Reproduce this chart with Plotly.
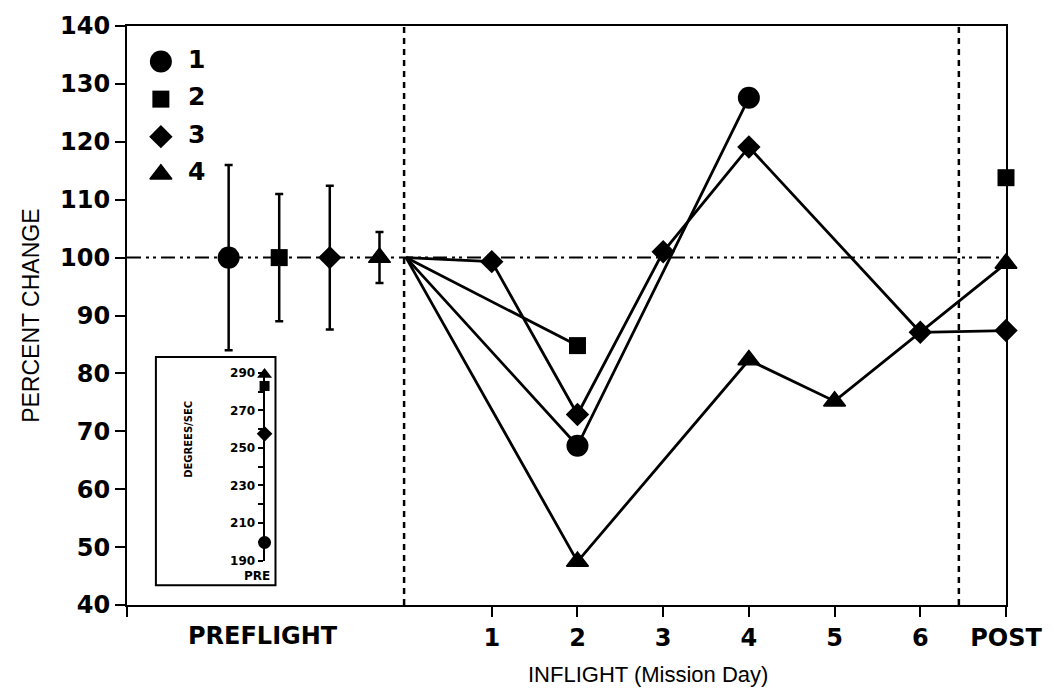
import plotly.graph_objects as go

# ---------------- data ----------------
subjects = ["1", "2", "3", "4"]
symbols = ["circle", "square", "diamond", "triangle-up"]

# preflight mean (=100 %) and error half-widths
pre_mean = [100, 100, 100, 100]
pre_err = [16.0, 11.0, 12.4, 4.4]

# inflight / post values (day 7 = POST)
s1_days = [0, 2, 4]
s1_vals = [100, 67.5, 127.6]
s2_days = [0, 2, None, 7]
s2_vals = [100, 84.8, None, 113.8]
s3_days = [0, 1, 2, 3, 4, 6, 7]
s3_vals = [100, 99.3, 72.9, 101.0, 119.1, 87.1, 87.4]
s4_days = [0, 2, 4, 5, 7]
s4_vals = [100, 47.5, 82.3, 75.2, 99.0]

x_tickvals = [1, 2, 3, 4, 5, 6, 7]
x_ticktext = ["1", "2", "3", "4", "5", "6", "POST"]

# inset: preflight absolute values (degrees/sec)
inset_vals = [199.6, 283.0, 257.5, 289.1]

# ---------------- layout constants ----------------
pre_x = [-2.07, -1.48, -0.89, -0.31]
XMIN, XMAX = -3.256, 7
FONT = "DejaVu Sans"
FONT2 = "Liberation Sans"
main_sizes = [22, 17, 18, 19]
inset_sizes = [13, 10, 12, 13]

fig = go.Figure()

def sizes(days, s):
    return [0 if d == 0 else s for d in days]

# preflight points with error bars
for i in range(4):
    fig.add_trace(go.Scatter(
        x=[pre_x[i]], y=[pre_mean[i]], mode="markers",
        marker=dict(symbol=symbols[i], size=main_sizes[i], color="black", opacity=1,
                    line=dict(width=1.5 if i == 3 else 0, color="black")),
        error_y=dict(type="data", array=[pre_err[i]], visible=True,
                     color="black", thickness=2.5, width=4),
        showlegend=False, cliponaxis=False))

series = [(s1_days, s1_vals), (s2_days, s2_vals), (s3_days, s3_vals), (s4_days, s4_vals)]
for i, (d, v) in enumerate(series):
    fig.add_trace(go.Scatter(
        x=d, y=v, mode="lines+markers", connectgaps=False,
        line=dict(color="black", width=2.8),
        marker=dict(symbol=symbols[i], size=sizes(d, main_sizes[i]), color="black",
                    opacity=1, line=dict(width=1.5 if i == 3 else 0, color="black")),
        showlegend=False, cliponaxis=False))

# inset
for i in range(4):
    fig.add_trace(go.Scatter(
        x=[0], y=[inset_vals[i]], mode="markers", xaxis="x2", yaxis="y2",
        marker=dict(symbol=symbols[i], size=inset_sizes[i], color="black", opacity=1),
        showlegend=False, cliponaxis=False))

# legend drawn as its own small subplot
fig.add_trace(go.Scatter(
    x=[161] * 4, y=[1, 2, 3, 4], mode="markers", xaxis="x3", yaxis="y3",
    marker=dict(symbol=symbols, size=main_sizes, color="black", opacity=1,
                line=dict(width=[0, 0, 0, 1.5], color="black")),
    showlegend=False, cliponaxis=False))
fig.add_trace(go.Scatter(
    x=[197] * 4, y=[1, 2, 3, 4], mode="text", text=subjects, xaxis="x3", yaxis="y3",
    textposition="middle center",
    textfont=dict(family=FONT, size=25, color="black", weight="bold"),
    showlegend=False, cliponaxis=False))

axis_common = dict(showgrid=False, zeroline=False, showline=True, linewidth=2,
                   linecolor="black", mirror=True, ticks="outside", ticklen=10,
                   tickwidth=2, tickcolor="black",
                   tickfont=dict(family=FONT, size=24, color="black", weight="bold"))

fig.update_layout(
    width=1054, height=695,
    margin=dict(l=127, r=45, t=19, b=90),
    paper_bgcolor="white", plot_bgcolor="rgba(0,0,0,0)",
    xaxis=dict(range=[XMIN, XMAX], tickvals=[XMIN] + x_tickvals,
               ticktext=[""] + x_ticktext, **axis_common),
    yaxis=dict(range=[40, 140], dtick=10, tick0=40, **axis_common),
    xaxis2=dict(domain=[0.1565, 0.1765], range=[0, 1], visible=False, anchor="y2"),
    yaxis2=dict(domain=[0.0768, 0.401], range=[190, 290], anchor="x2",
                showgrid=False, zeroline=False, showline=True, linewidth=2,
                linecolor="black", ticks="outside", ticklen=5, tickwidth=2,
                tickcolor="black", tick0=190, dtick=20,
                minor=dict(dtick=10, tick0=190, ticks="outside", ticklen=5,
                           tickwidth=2, tickcolor="black"),
                tickfont=dict(family=FONT, size=12, color="black", weight="bold")),
    xaxis3=dict(domain=[0, 0.2], range=[127, 303.4], visible=False, anchor="y3"),
    yaxis3=dict(domain=[0.7099, 0.9693], range=[4.526, 0.526], visible=False, anchor="x3"),
    shapes=[
        dict(type="line", xref="paper", x0=0, x1=1, yref="y", y0=100, y1=100,
             line=dict(color="black", width=2, dash="14px,5px,3px,4px,3px,5px"), layer="below"),
        dict(type="line", xref="x", x0=-0.023, x1=-0.023, yref="paper", y0=0, y1=1,
             line=dict(color="black", width=2.5, dash="6px,5px"), layer="below"),
        dict(type="line", xref="x", x0=6.45, x1=6.45, yref="paper", y0=0, y1=1,
             line=dict(color="black", width=2.5, dash="6px,5px"), layer="below"),
        dict(type="rect", xref="paper", x0=(156 - 127) / 882, x1=(276 - 127) / 882,
             yref="paper", y0=(605 - 585) / 586, y1=(605 - 354) / 586,
             line=dict(color="black", width=2), fillcolor="rgba(0,0,0,0)", layer="below"),
    ],
    annotations=[
        dict(text="PERCENT CHANGE", xref="paper", yref="paper", x=-0.11, y=0.5,
             textangle=-90, showarrow=False, xanchor="center", yanchor="middle",
             font=dict(family=FONT2, size=23, color="black")),
        dict(text="INFLIGHT (Mission Day)", xref="paper", yref="paper", x=0.593, y=-0.1195,
             showarrow=False, xanchor="center", yanchor="middle",
             font=dict(family=FONT2, size=22, color="black")),
        dict(text="PREFLIGHT", xref="x", yref="paper", x=-1.67, y=-0.053,
             showarrow=False, xanchor="center", yanchor="middle",
             font=dict(family=FONT, size=24, color="black", weight="bold")),
        dict(text="DEGREES/SEC", xref="paper", yref="paper", x=(188 - 127) / 882,
             y=(605 - 437) / 586, textangle=-90, showarrow=False,
             xanchor="center", yanchor="middle",
             font=dict(family=FONT, size=10, color="black", weight="bold")),
        dict(text="PRE", xref="paper", yref="paper", x=(257 - 127) / 882,
             y=(605 - 576) / 586, showarrow=False, xanchor="center", yanchor="middle",
             font=dict(family=FONT, size=12, color="black", weight="bold")),
    ],
)

fig.write_html("out.html")
